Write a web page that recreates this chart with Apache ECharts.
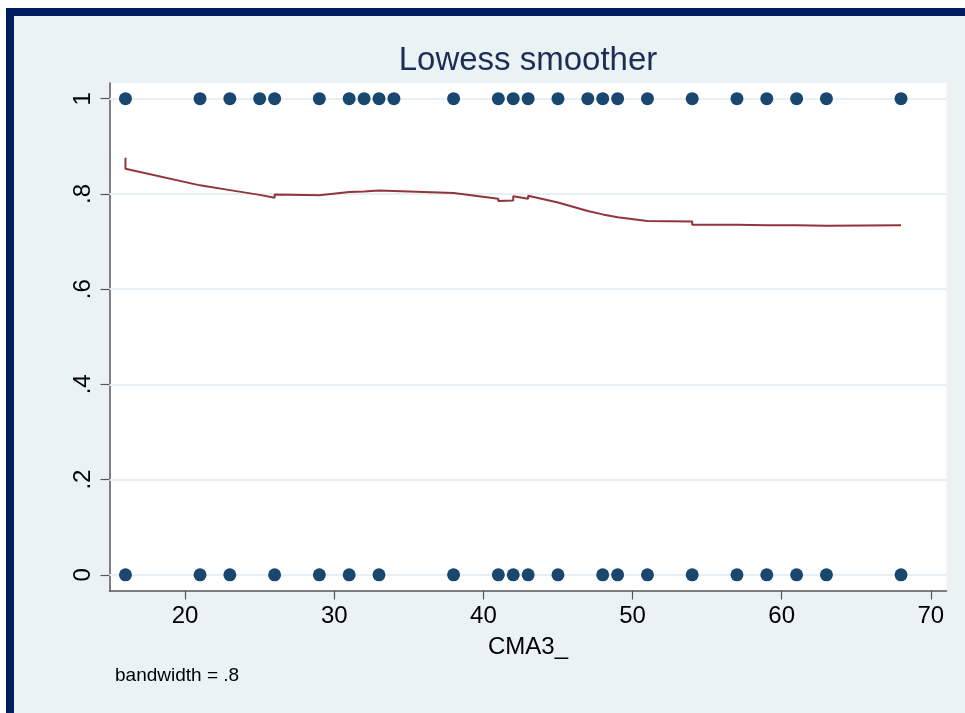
<!DOCTYPE html>
<html><head><meta charset="utf-8">
<script src="https://cdn.jsdelivr.net/npm/echarts@6/dist/echarts.min.js"></script>
<style>html,body{margin:0;padding:0;background:#fff}#c{width:965px;height:713px}</style>
</head><body><div id="c"></div>
<script>
const titleText = 'Lowess smoother';
const xName = 'CMA3_';
const noteText = 'bandwidth = .8';
// observed x values where outcome = 1
const obsXOne = [16,21,23,25,26,29,31,32,33,34,38,41,42,43,45,47,48,49,51,54,57,59,61,63,68];
// observed x values where outcome = 0
const obsXZero = [16,21,23,26,29,31,33,38,41,42,43,45,48,49,51,54,57,59,61,63,68];
// lowess smooth (sorted observations, ties give small vertical steps)
const smoothX = [16,16,21,23,25,26,26,29,29,31,32,33,33,38,38,41,41,42,42,43,43,45,45,47,48,49,51,54,54,57,59,61,63,68];
const smoothY = [0.876,0.853,0.818,0.808,0.798,0.792,0.799,0.797,0.800,0.804,0.805,0.807,0.804,0.802,0.800,0.790,0.785,0.786,0.795,0.790,0.796,0.782,0.780,0.764,0.757,0.751,0.743,0.742,0.735,0.735,0.734,0.734,0.733,0.734];
const xTicks = [20,30,40,50,60,70];
const yTicks = [0,0.2,0.4,0.6,0.8,1];
const yTickLabels = ['0','.2','.4','.6','.8','1'];

const FONT = '"Liberation Sans", Arial, sans-serif';
const chart = echarts.init(document.getElementById('c'), null, {renderer:'canvas'});
const gridL = 109.5, gridT = 83, gridR = 946.5, gridB = 590.5;
chart.setOption({
  backgroundColor: '#EAF2F3',
  animation: false,
  grid: {left: gridL, top: gridT, width: gridR - gridL, height: gridB - gridT,
         show: true, backgroundColor: '#ffffff', borderWidth: 0, containLabel: false},
  graphic: [
    {type:'rect', shape:{x:0,y:0,width:965,height:8}, style:{fill:'#ffffff'}, silent:true},
    {type:'rect', shape:{x:0,y:0,width:6,height:713}, style:{fill:'#ffffff'}, silent:true},
    {type:'rect', shape:{x:6,y:8,width:959,height:8}, style:{fill:'#001E5E'}, silent:true},
    {type:'rect', shape:{x:6,y:8,width:8,height:705}, style:{fill:'#001E5E'}, silent:true},
    {type:'text', x:(gridL+gridR)/2, y:61, silent:true,
     style:{text:titleText, fill:'#1C2D58', font:'33px '+FONT, textAlign:'center', textVerticalAlign:'middle', align:'center', verticalAlign:'middle'}},
    {type:'text', x:(gridL+gridR)/2, y:647, silent:true,
     style:{text:xName, fill:'#000000', font:'24px '+FONT, textAlign:'center', textVerticalAlign:'middle', align:'center', verticalAlign:'middle'}},
    {type:'text', x:115, y:676, silent:true,
     style:{text:noteText, fill:'#000000', font:'19px '+FONT, textAlign:'left', textVerticalAlign:'middle', align:'left', verticalAlign:'middle'}}
  ],
  xAxis: {
    type:'value', min:14.93, max:71.05,
    axisLine:{show:true, onZero:false, lineStyle:{color:'#555555', width:1.5}},
    axisTick:{show:true, inside:false, length:9, customValues: xTicks, lineStyle:{color:'#555555', width:1.2}},
    axisLabel:{show:true, customValues: xTicks, fontSize:24, fontFamily:FONT, color:'#000000', margin:14},
    splitLine:{show:false}
  },
  yAxis: {
    type:'value', min:-0.033, max:1.033,
    axisLine:{show:true, onZero:false, lineStyle:{color:'#555555', width:1.5}},
    axisTick:{show:true, inside:false, length:9, customValues: yTicks, lineStyle:{color:'#555555', width:1.2}},
    axisLabel:{show:true, customValues: yTicks, rotate:90, fontSize:24, fontFamily:FONT, color:'#000000', margin:14,
      formatter: function(v){ for (let i=0;i<yTicks.length;i++){ if (Math.abs(v-yTicks[i])<1e-6) return yTickLabels[i]; } return ''; }},
    splitLine:{show:false}
  },
  series: [
    {type:'line', data:[], z:1, silent:true,
     markLine:{silent:true, z:1, symbol:['none','none'], label:{show:false},
       lineStyle:{color:'#E8EFF2', width:2, type:'solid'},
       data: yTicks.map(v => ({yAxis: v}))}},
    {type:'scatter', z:3, symbol:'circle', symbolSize:13, itemStyle:{color:'#1A476F', opacity:1},
     data: obsXOne.map(x => [x, 1]).concat(obsXZero.map(x => [x, 0]))},
    {type:'line', z:4, showSymbol:false, symbol:'none',
     lineStyle:{color:'#90353B', width:2},
     data: smoothX.map((x,i) => [x, smoothY[i]])}
  ]
});
</script>
</body></html>
